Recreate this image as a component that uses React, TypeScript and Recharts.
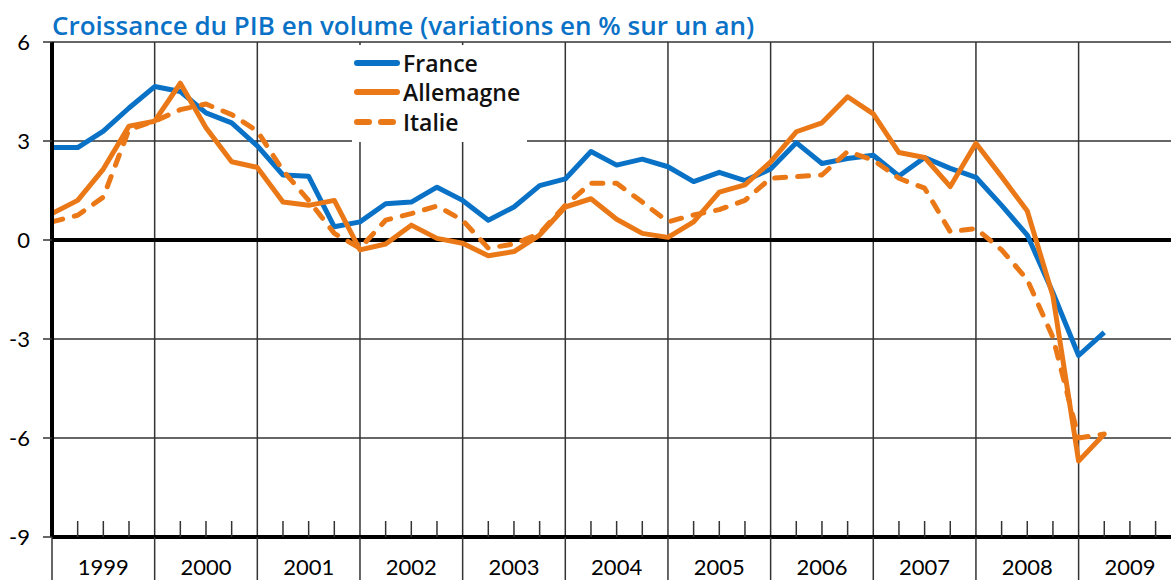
import React from "react";
import {
  LineChart,
  Line,
  XAxis,
  YAxis,
  CartesianGrid,
  ReferenceLine,
  Legend,
} from "recharts";

const BLUE = "#0A72C6";
const ORANGE = "#EB7817";
const FONT = "Lato, 'Open Sans', sans-serif";
const TITLE_FONT = "'Open Sans', Lato, sans-serif";

const YEARS = ["1999", "2000", "2001", "2002", "2003", "2004", "2005", "2006", "2007", "2008", "2009"];
const Y_TICKS = [-9, -6, -3, 0, 3, 6];

// glissement annuel, 1999T1 -> 2009T2
const FRANCE = [
  2.8, 2.8, 3.3, 4.0, 4.65, 4.5, 3.85, 3.55, 2.85, 1.97, 1.93, 0.4,
  0.55, 1.1, 1.15, 1.6, 1.2, 0.6, 1.0, 1.65, 1.85, 2.68, 2.27, 2.45,
  2.22, 1.77, 2.05, 1.8, 2.15, 2.95, 2.32, 2.47, 2.57, 1.94, 2.5, 2.17,
  1.9, 1.05, 0.15, -1.6, -3.5, -2.8,
];
const ALLEMAGNE = [
  0.8, 1.2, 2.15, 3.45, 3.6, 4.75, 3.4, 2.37, 2.2, 1.15, 1.05, 1.2,
  -0.3, -0.12, 0.45, 0.05, -0.1, -0.48, -0.35, 0.15, 1.0, 1.25, 0.63, 0.2,
  0.08, 0.55, 1.45, 1.67, 2.37, 3.28, 3.55, 4.34, 3.82, 2.65, 2.5, 1.62,
  2.93, 1.92, 0.88, -1.7, -6.7, -5.88,
];
const ITALIE = [
  0.55, 0.75, 1.3, 3.35, 3.6, 3.95, 4.12, 3.8, 3.3, 2.1, 1.2, 0.2,
  -0.25, 0.6, 0.8, 1.03, 0.6, -0.25, -0.12, 0.2, 1.05, 1.72, 1.72, 1.15,
  0.55, 0.76, 0.92, 1.2, 1.87, 1.92, 1.97, 2.68, 2.42, 1.87, 1.57, 0.25,
  0.35, -0.3, -1.2, -2.95, -6.0, -5.88,
];

const data = FRANCE.map((v, i) => ({
  q: i,
  france: v,
  allemagne: ALLEMAGNE[i],
  italie: ITALIE[i],
}));

const quarterTicks = Array.from({ length: 44 }, (_, i) => i);
const yearStarts = YEARS.slice(1, 11).map((_, i) => (i + 1) * 4);

const SERIES = [
  { name: "France", color: BLUE, dash: false },
  { name: "Allemagne", color: ORANGE, dash: false },
  { name: "Italie", color: ORANGE, dash: true },
];

const QuarterTick = (props: any) => {
  const { x, y, payload } = props;
  const v = payload.value;
  return (
    <g>
      {v % 4 === 0 ? (
        <line x1={x} x2={x} y1={y} y2={y + 43} stroke="#333" strokeWidth={1.5} />
      ) : (
        <line x1={x} x2={x} y1={y} y2={y - 16} stroke="#333" strokeWidth={1.5} />
      )}
      {v % 4 === 2 && (
        <text
          x={x}
          y={y + 38}
          textAnchor="middle"
          fontSize={22}
          fontFamily={FONT}
          fill="#000"
        >
          {YEARS[(v - 2) / 4]}
        </text>
      )}
    </g>
  );
};

const LegendBox = () => (
  <div
    style={{
      background: "#fff",
      width: 175,
      height: 97,
      boxSizing: "border-box",
      paddingTop: 3,
      fontFamily: TITLE_FONT,
    }}
  >
    {SERIES.map((s) => (
      <div
        key={s.name}
        style={{ display: "flex", alignItems: "center", height: 29.5 }}
      >
        <svg width={48} height={10} style={{ marginLeft: 1, flex: "none" }}>
          <line
            x1={4}
            x2={44}
            y1={5}
            y2={5}
            stroke={s.color}
            strokeWidth={6}
            strokeLinecap="round"
            strokeDasharray={s.dash ? "12 12" : undefined}
          />
        </svg>
        <span style={{ fontSize: 23, fontWeight: 600, color: "#111", marginLeft: 2, whiteSpace: "nowrap" }}>
          {s.name}
        </span>
      </div>
    ))}
  </div>
);

export default function App() {
  return (
    <div style={{ position: "absolute", left: 0, top: 0, width: 1171, height: 580, background: "#fff", overflow: "hidden" }}>
      <div
        style={{
          position: "absolute",
          left: 52,
          top: 12,
          fontFamily: TITLE_FONT,
          fontSize: 26,
          fontWeight: 600,
          lineHeight: "26px",
          color: BLUE,
          whiteSpace: "nowrap",
          zIndex: 2,
        }}
      >
        Croissance du PIB en volume (variations en % sur un an)
      </div>
      <LineChart
        width={1171}
        height={580}
        data={data}
        margin={{ top: 42, right: 0, bottom: 0, left: 0 }}
      >
        <CartesianGrid horizontal vertical={false} stroke="#333" strokeWidth={1.5} />
        {yearStarts.map((x) => (
          <ReferenceLine key={x} x={x} stroke="#333" strokeWidth={1.5} />
        ))}
        <ReferenceLine y={0} stroke="#000" strokeWidth={4} />
        <XAxis
          dataKey="q"
          type="number"
          domain={[0, 43.6]}
          ticks={quarterTicks}
          interval={0}
          height={43}
          tickSize={0}
          tickMargin={0}
          tick={<QuarterTick />}
          axisLine={{ stroke: "#000", strokeWidth: 4 }}
          tickLine={false}
          allowDataOverflow
        />
        <YAxis
          domain={[-9, 6]}
          ticks={Y_TICKS}
          width={52}
          interval={0}
          tickSize={9}
          tickMargin={13}
          axisLine={{ stroke: "#000", strokeWidth: 4 }}
          tickLine={{ stroke: "#333", strokeWidth: 1.5 }}
          tick={{ fill: "#000", fontSize: 22, fontFamily: FONT }}
        />
        <Legend
          layout="vertical"
          align="center"
          verticalAlign="middle"
          content={<LegendBox />}
          wrapperStyle={{ top: 45, left: 352, width: 175 }}
        />
        <Line
          dataKey="france"
          name="France"
          stroke={BLUE}
          strokeWidth={5}
          dot={false}
          strokeLinejoin="round"
          isAnimationActive={false}
        />
        <Line
          dataKey="italie"
          name="Italie"
          stroke={ORANGE}
          strokeWidth={5}
          strokeDasharray="11 12"
          strokeLinecap="round"
          dot={false}
          strokeLinejoin="round"
          isAnimationActive={false}
        />
        <Line
          dataKey="allemagne"
          name="Allemagne"
          stroke={ORANGE}
          strokeWidth={5}
          dot={false}
          strokeLinejoin="round"
          isAnimationActive={false}
        />
      </LineChart>
    </div>
  );
}
